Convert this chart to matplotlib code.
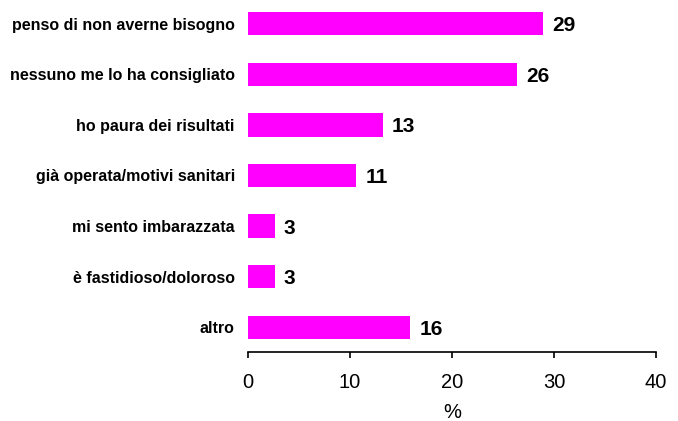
import matplotlib
matplotlib.use("Agg")
import matplotlib.pyplot as plt

categories = ["penso di non averne bisogno", "nessuno me lo ha consigliato",
              "ho paura dei risultati", "già operata/motivi sanitari",
              "mi sento imbarazzata", "è fastidioso/doloroso", "altro"]
values = [28.9, 26.4, 13.2, 10.6, 2.6, 2.6, 15.9]   # bar lengths as drawn
labels = ["29", "26", "13", "11", "3", "3", "16"]    # printed values
xticks = [0, 10, 20, 30, 40]

plt.rcParams['font.family'] = ['Liberation Sans', 'DejaVu Sans']

fig = plt.figure(figsize=(6.78, 4.21), dpi=100)
ax = fig.add_axes([248/678, 69/421, 408/678, 351/421])

# top category first
pos = list(range(len(categories)))[::-1]
ax.barh(pos, values, height=0.46, color='#ff00ff')

for p, v, lab in zip(pos, values, labels):
    ax.text(v + 0.9, p - 0.04, lab, va='center', ha='left',
            fontsize=15, fontweight='bold')

ax.set_yticks(pos)
ax.set_yticklabels(categories, fontsize=11.5, fontweight='bold')
ax.tick_params(axis='y', length=0, pad=9.5)

ax.set_xlim(0, 40)
ax.set_ylim(-0.49, 6.45)
ax.set_xticks(xticks)
ax.tick_params(axis='x', direction='out', length=4.5, width=1.2,
               labelsize=14.5, pad=10.5)
ax.set_xlabel('%', fontsize=14.5, labelpad=8)

for s in ['top', 'right', 'left']:
    ax.spines[s].set_visible(False)
ax.spines['bottom'].set_linewidth(1.2)

fig.savefig('out.png', dpi=100)
